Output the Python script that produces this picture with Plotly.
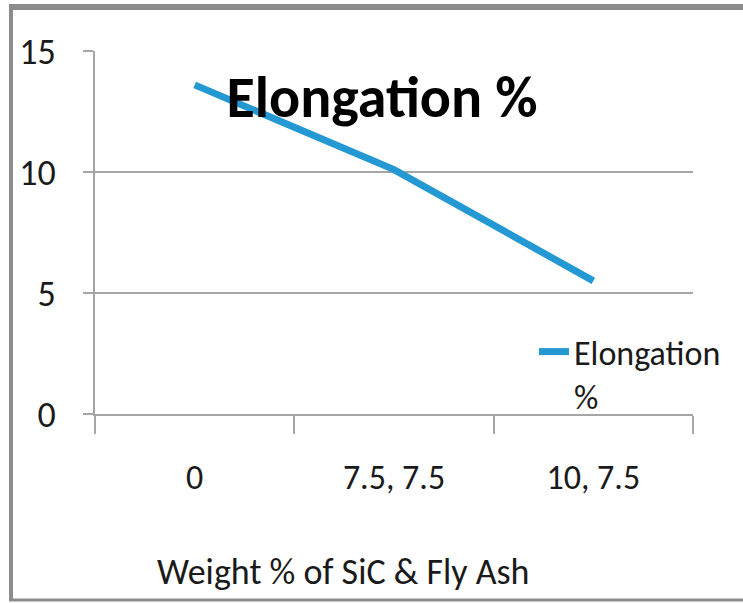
import plotly.graph_objects as go

# data
categories = ["0", "7.5, 7.5", "10, 7.5"]
elongation = [13.6, 10.1, 5.5]
y_ticks = [0, 5, 10, 15]

LINE_BLUE = "#2398D2"
GRID_GRAY = "#A6A6A6"
FRAME_GRAY = "#8C8C8C"
TEXT = "#1A1A1A"
FONT = "Carlito, Lato, sans-serif"

W, H = 743, 603


def px_x(px):
    # screen column -> paper fraction (plot area spans 95..693)
    return (px - 95) / 598


def px_y(py):
    # screen row -> paper fraction (plot area spans 51..414)
    return (414 - py) / 363


fig = go.Figure()
fig.add_trace(
    go.Scatter(
        x=categories,
        y=elongation,
        mode="lines",
        name="Elongation<br>%",
        line=dict(color=LINE_BLUE, width=7),
    )
)

fig.update_layout(
    width=W,
    height=H,
    margin=dict(l=95, r=W - 693, t=51, b=H - 414, autoexpand=False),
    paper_bgcolor="white",
    plot_bgcolor="white",
    font=dict(family=FONT, size=34, color=TEXT),
    title=dict(
        text="<b>Elongation %</b>",
        font=dict(family=FONT, size=58, color="black"),
        x=382 / W,
        xanchor="center",
        y=1 - 97 / H,
        yanchor="middle",
    ),
    showlegend=True,
    legend=dict(
        x=px_x(534),
        y=px_y(323),
        xanchor="left",
        yanchor="top",
        valign="top",
        bgcolor="rgba(0,0,0,0)",
        font=dict(size=34, color=TEXT),
    ),
    xaxis=dict(
        type="category",
        range=[-0.5, 2.5],
        automargin=False,
        showgrid=False,
        showline=True,
        linecolor=GRID_GRAY,
        linewidth=2,
        ticks="outside",
        tickson="boundaries",
        ticklen=18,
        tickwidth=2,
        tickcolor=GRID_GRAY,
        ticklabelstandoff=32,
        tickfont=dict(size=34, color=TEXT),
    ),
    yaxis=dict(
        range=[0, 15],
        tickvals=y_ticks,
        automargin=False,
        showgrid=True,
        gridcolor=GRID_GRAY,
        gridwidth=2,
        zeroline=False,
        showline=True,
        linecolor=GRID_GRAY,
        linewidth=2,
        ticks="outside",
        ticklen=10,
        tickwidth=2,
        tickcolor=GRID_GRAY,
        ticklabelstandoff=20,
        tickfont=dict(size=36, color=TEXT),
    ),
    annotations=[
        dict(
            text="Weight % of SiC & Fly Ash",
            xref="paper",
            yref="paper",
            x=px_x(343),
            y=px_y(572),
            xanchor="center",
            yanchor="middle",
            showarrow=False,
            font=dict(family=FONT, size=36, color=TEXT),
        )
    ],
    shapes=[
        # outer frame of the picture
        dict(type="line", xref="paper", yref="paper",
             x0=px_x(11), x1=px_x(11), y0=px_y(601), y1=px_y(7),
             line=dict(color=FRAME_GRAY, width=4)),
        dict(type="line", xref="paper", yref="paper",
             x0=px_x(9), x1=px_x(760), y0=px_y(7), y1=px_y(7),
             line=dict(color=FRAME_GRAY, width=6)),
        dict(type="line", xref="paper", yref="paper",
             x0=px_x(9), x1=px_x(760), y0=px_y(600), y1=px_y(600),
             line=dict(color=FRAME_GRAY, width=3)),
    ],
)

# drop the page's default body margin so the figure sits at the window corner
fig.write_html(
    "out.html",
    config={"displayModeBar": False},
    post_script="document.body.style.margin='0';document.body.style.overflow='hidden';",
)
